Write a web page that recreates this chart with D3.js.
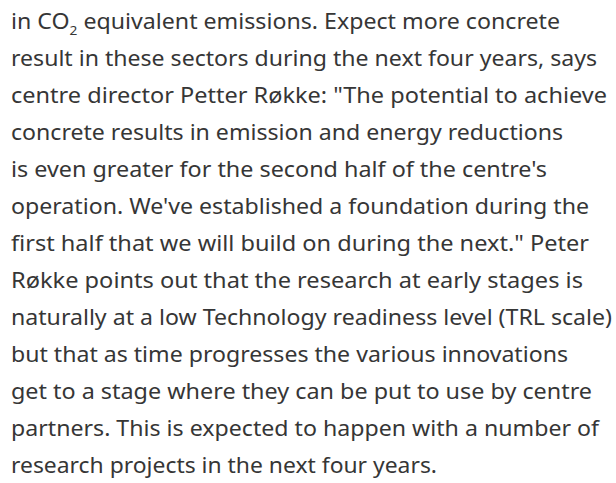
<!DOCTYPE html>
<html>
<head>
<meta charset="utf-8">
<script src="https://cdn.jsdelivr.net/npm/d3@7"></script>
<style>
  html, body { margin: 0; padding: 0; background: #ffffff; }
  svg { display: block; }
</style>
</head>
<body>
<svg id="chart" width="616" height="483"></svg>
<script>
// Text lines (first line carries a subscript part for CO2)
const lineTexts = [
  "in CO\u2082 equivalent emissions. Expect more concrete",
  "result in these sectors during the next four years, says",
  "centre director Petter Røkke: \"The potential to achieve",
  "concrete results in emission and energy reductions",
  "is even greater for the second half of the centre's",
  "operation. We've established a foundation during the",
  "first half that we will build on during the next.\" Peter",
  "Røkke points out that the research at early stages is",
  "naturally at a low Technology readiness level (TRL scale)",
  "but that as time progresses the various innovations",
  "get to a stage where they can be put to use by centre",
  "partners. This is expected to happen with a number of",
  "research projects in the next four years."
];
// Right edge of each line
const lineEnds = [560, 597, 607, 563, 547, 589, 589, 583, 612, 568, 592, 599, 437];

const svg = d3.select("#chart");
const left = 11;
const y = d3.scaleLinear().domain([0, lineTexts.length - 1]).range([28.5, 28.5 + 37 * 12]);
const fontFamily = "'Noto Sans', 'Open Sans', sans-serif";
const fontSize = 22;

const g = svg.append("g");
lineTexts.forEach((t, i) => {
  const text = g.append("text")
    .attr("x", left)
    .attr("y", y(i))
    .attr("font-family", fontFamily)
    .attr("font-size", fontSize)
    .attr("fill", "#363636");
  if (t.includes("\u2082")) {
    const parts = t.split("\u2082");
    text.append("tspan").text(parts[0]);
    text.append("tspan").attr("font-size", 13).attr("dy", 6).text("2");
    text.append("tspan").attr("dy", -6).text(parts[1]);
  } else {
    text.text(t);
  }
  const w = text.node().getComputedTextLength();
  const target = lineEnds[i] - left;
  if (Math.abs(w - target) > 1) {
    text.attr("textLength", target).attr("lengthAdjust", "spacingAndGlyphs");
  }
});
</script>
</body>
</html>
